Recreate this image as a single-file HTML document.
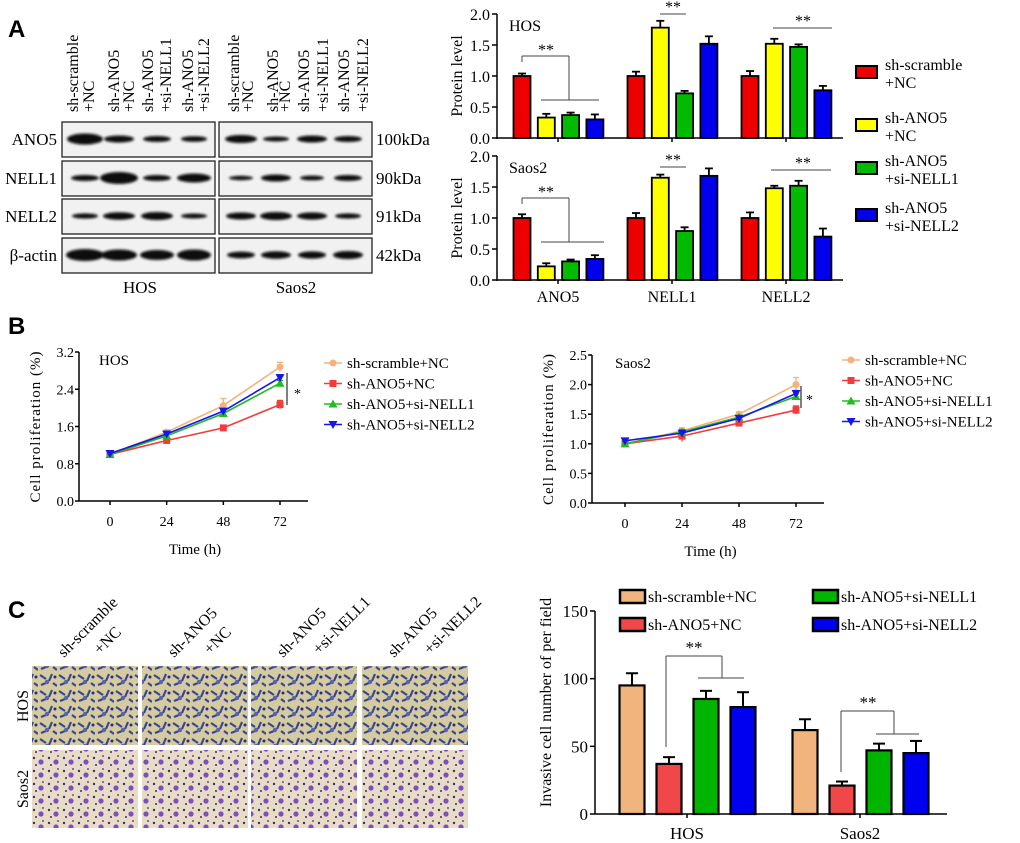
<!DOCTYPE html>
<html><head><meta charset="utf-8">
<style>
html,body{margin:0;padding:0;background:#fff;}
svg{display:block;font-family:"Liberation Serif",serif;}
.pl{font-family:"Liberation Sans",sans-serif;font-weight:bold;font-size:24px;}
</style></head>
<body>
<svg id="fig" width="1020" height="843" viewBox="0 0 1020 843" xmlns="http://www.w3.org/2000/svg">
<defs>
<filter id="blur" x="-20%" y="-100%" width="140%" height="300%"><feGaussianBlur stdDeviation="1.4"/></filter>
<pattern id="hosPat" width="19" height="16" patternUnits="userSpaceOnUse">
<rect width="19" height="16" fill="#d4cba0"/>
<path d="M2 3 l6 4 M14 2 l-3 7 M15 11 l4 3 M3 13 l5 -2" stroke="#3c4590" stroke-width="2.2"/>
<circle cx="9" cy="10" r="2.2" fill="#5a64a8"/><circle cx="17" cy="5" r="1.5" fill="#2a3070"/>
</pattern>
<pattern id="saosPat" width="15" height="13" patternUnits="userSpaceOnUse">
<rect width="15" height="13" fill="#e8dcc6"/>
<circle cx="4" cy="4" r="1.2" fill="#3a2e80"/><circle cx="11" cy="8" r="2.6" fill="#7a50c0"/>
<circle cx="6" cy="11" r="1" fill="#3a2e70"/><circle cx="13" cy="2" r="0.9" fill="#3a2e70"/>
</pattern>
</defs>
<g id="root"></g>
</svg>
<script>
// ---------- Panel A bar chart data ----------
const aCategories = ["ANO5","NELL1","NELL2"];
const aSeries = ["sh-scramble +NC","sh-ANO5 +NC","sh-ANO5 +si-NELL1","sh-ANO5 +si-NELL2"];
const aHosValues = [[1.0,0.33,0.37,0.30],[1.0,1.78,0.72,1.52],[1.0,1.52,1.47,0.77]];
const aHosErrors = [[0.04,0.06,0.04,0.08],[0.07,0.11,0.04,0.12],[0.08,0.08,0.04,0.07]];
const aSaosValues = [[1.0,0.22,0.30,0.34],[1.0,1.65,0.79,1.68],[1.0,1.48,1.52,0.70]];
const aSaosErrors = [[0.06,0.05,0.03,0.06],[0.08,0.05,0.06,0.12],[0.09,0.04,0.08,0.13]];
const aTicks = [0,0.5,1.0,1.5,2.0];
// ---------- Panel B line chart data ----------
const bTimes = [0,24,48,72];
const bSeries = ["sh-scramble+NC","sh-ANO5+NC","sh-ANO5+si-NELL1","sh-ANO5+si-NELL2"];
const bHosValues = [[1.0,1.48,2.05,2.88],[1.0,1.30,1.57,2.07],[1.0,1.40,1.88,2.53],[1.02,1.44,1.93,2.65]];
const bHosErrors = [[0.04,0.05,0.15,0.10],[0.03,0.05,0.05,0.09],[0.03,0.04,0.04,0.06],[0.03,0.04,0.04,0.06]];
const bSaosValues = [[1.0,1.22,1.50,2.00],[1.0,1.13,1.35,1.57],[1.0,1.20,1.45,1.80],[1.05,1.18,1.43,1.85]];
const bSaosErrors = [[0.04,0.05,0.04,0.12],[0.03,0.09,0.04,0.07],[0.03,0.04,0.03,0.04],[0.03,0.03,0.03,0.05]];
const bHosTicks = ["0.0","0.8","1.6","2.4","3.2"];
const bSaosTicks = ["0.0","0.5","1.0","1.5","2.0","2.5"];
// ---------- Panel C bar chart data ----------
const cCategories = ["HOS","Saos2"];
const cSeries = ["sh-scramble+NC","sh-ANO5+NC","sh-ANO5+si-NELL1","sh-ANO5+si-NELL2"];
const cValues = [[95,37,85,79],[62,21,47,45]];
const cErrors = [[9,5,6,11],[8,3,5,9]];
const cTicks = [0,50,100,150];

const NS="http://www.w3.org/2000/svg";
const root=document.getElementById('root');
function mk(tag,attrs,parent,text){const e=document.createElementNS(NS,tag);for(const k in attrs)e.setAttribute(k,attrs[k]);if(text!==undefined)e.textContent=text;(parent||root).appendChild(e);return e;}
function line(x1,y1,x2,y2,w,parent,c){return mk('line',{x1,y1,x2,y2,stroke:c||'#000','stroke-width':w||1},parent);}

let t;
t=mk('text',{x:8,y:37,class:'pl'},root,'A');


t=mk('text',{x:8,y:334,class:'pl'},root,'B');


t=mk('text',{x:8,y:618,class:'pl'},root,'C');



// ---------- Western blot ----------
const wb=mk('g',{});


const colLabels=[["sh-scramble","+NC"],["sh-ANO5","+NC"],["sh-ANO5","+si-NELL1"],["sh-ANO5","+si-NELL2"]];
const colX=[[78,94],[119,134],[153,171],[193,209],[239,253],[278,290],[309,328],[349,368]];
for(let i=0;i<8;i++){
  const lab=colLabels[i%4];
  for(let j=0;j<2;j++){
    const tt=mk('text',{x:0,y:0,transform:`translate(${colX[i][j]},112) rotate(-90)`,'font-size':'16'},wb,lab[j]);
    
    
  }
}
const rows=[["ANO5",122,"100kDa"],["NELL1",161,"90kDa"],["NELL2",199,"91kDa"],["β-actin",238,"42kDa"]];
const bandHos=[[[13,5.5],[10,3.5],[9,3],[8,2.8]],[[9,3],[14,6],[9,3],[12,4.5]],[[8,2.6],[11,3.8],[11,4],[8,2.5]],[[14,6],[13,5.5],[12,5],[12,5.5]]];
const bandSaos=[[[11,4],[8,2.5],[10,3.5],[9,3]],[[7,2.2],[10,3.5],[7,2.4],[9,3]],[[10,3.5],[11,4],[10,3.6],[8,2.6]],[[9,3.4],[10,3.8],[9,3.6],[10,4]]];
const laneHos=[85,119,157,194], laneSaos=[241,276,312,348];
rows.forEach((r,ri)=>{
  const y=r[1];
  const lt=mk('text',{x:57,y:y+23,'text-anchor':'end','font-size':'17'},wb,r[0]);
  
  
  const kt=mk('text',{x:376,y:y+23,'font-size':'17'},wb,r[2]);
  
  
  [[62,laneHos,bandHos],[219,laneSaos,bandSaos]].forEach(([bx,lanes,bands])=>{
    const box=mk('rect',{x:bx,y:y,width:153,height:35,fill:'#f1f1f1',stroke:'#222','stroke-width':1.3},wb);
    
    
    lanes.forEach((lx,li)=>{
      const b=bands[ri][li];
      const e=mk('ellipse',{cx:lx,cy:y+17,rx:b[0]+5,ry:b[1],fill:'#0a0a0a',filter:'url(#blur)'},wb);
      
      
    });
  });
});
t=mk('text',{x:140,y:293,'text-anchor':'middle','font-size':'17'},wb,'HOS');


t=mk('text',{x:296,y:293,'text-anchor':'middle','font-size':'17'},wb,'Saos2');



// ---------- Panel A bar charts ----------
const aColors=['#ee0000','#ffff00','#00bb00','#0000ee'];
function aChart(name,yTop,yBot,vals,errs,title,showCats){
  const g=mk('g',{});
  
  
  const x0=497,x1=843;
  const ys=v=>yBot-(v/2)*(yBot-yTop);
  line(x0,yTop,x0,yBot+1,1.5,g);line(x0,yBot,x1,yBot,1.5,g);
  aTicks.forEach(v=>{line(x0-5,ys(v),x0,ys(v),1.5,g);
    const tl=mk('text',{x:x0-7,y:ys(v)+6,'text-anchor':'end','font-size':'16'},g,v.toFixed(1));
    
    });
  const yt=mk('text',{transform:`translate(${462},${(yTop+yBot)/2}) rotate(-90)`,'text-anchor':'middle','font-size':'16'},g,'Protein level');
  
  
  const tt=mk('text',{x:509,y:yTop+17,'font-size':'16'},g,title);
  
  
  aCategories.forEach((c,ci)=>{
    const cx=558+ci*114;
    line(cx,yBot,cx,yBot+4,1.5,g);
    if(showCats){const cl=mk('text',{x:cx,y:yBot+22,'text-anchor':'middle','font-size':'16'},g,c);
      
      }
    vals[ci].forEach((v,si)=>{
      const bx=cx-36+si*24.3, w=17;
      const e=errs[ci][si];
      line(bx,ys(v),bx,ys(v+e),1.8,g);line(bx-4,ys(v+e),bx+4,ys(v+e),1.8,g);
      const r=mk('rect',{x:bx-w/2,y:ys(v),width:w,height:yBot-ys(v),fill:aColors[si],stroke:'#000','stroke-width':1.8},g);
      
      
    });
  });
  return {g,ys};
}
const hosA=aChart('hos-protein-chart',14,138,aHosValues,aHosErrors,'HOS',false);
const saA=aChart('saos2-protein-chart',156,280,aSaosValues,aSaosErrors,'Saos2',true);
function sig(g,x,y,size){const s=mk('text',{x,y,'text-anchor':'middle','font-size':size||'16'},g,'**');}
[[hosA,0],[saA,142]].forEach(([c,off])=>{
  const g=c.g;
  line(522,off+62,522,off+56,1,g,'#444');line(522,off+56,569,off+56,1,g,'#444');line(569,off+56,569,off+100,1,g,'#444');
  line(541,off+100,(off?604:599),off+100,1,g,'#444');
  sig(g,546,off+55);
});
line(660,14,686,14,1,hosA.g,'#444');sig(hosA.g,673,12);
line(773,28,832,28,1,hosA.g,'#444');sig(hosA.g,803,26);
line(660,167,686,167,1,saA.g,'#444');sig(saA.g,673,165);
line(771,170,831,170,1,saA.g,'#444');sig(saA.g,803,168);
const aLeg=mk('g',{});


[[72,"sh-scramble","+NC"],[125,"sh-ANO5","+NC"],[168,"sh-ANO5","+si-NELL1"],[215,"sh-ANO5","+si-NELL2"]].forEach((l,i)=>{
  const r=mk('rect',{x:856,y:l[0]-6,width:21,height:12,fill:aColors[i],stroke:'#000','stroke-width':2},aLeg);
  
  
  const t1=mk('text',{x:885,y:l[0]-2,'font-size':'16'},aLeg,l[1]);
  
  
  const t2=mk('text',{x:885,y:l[0]+16,'font-size':'16'},aLeg,l[2]);
  
  
});

// ---------- Panel B ----------
const bColors=['#f5b27a','#f23c3c','#22bb22','#1515ee'];
function marker(g,type,x,y,c){
  if(type===0) return mk('circle',{cx:x,cy:y,r:3.5,fill:c},g);
  if(type===1) return mk('rect',{x:x-3.5,y:y-3.5,width:7,height:7,fill:c},g);
  if(type===2) return mk('path',{d:`M${x} ${y-4.5} L${x+4.5} ${y+3.5} L${x-4.5} ${y+3.5}Z`,fill:c},g);
  return mk('path',{d:`M${x} ${y+4.5} L${x+4.5} ${y-3.5} L${x-4.5} ${y-3.5}Z`,fill:c},g);
}
function bChart(name,ax,axEnd,yTop,yBot,ymax,ticks,x0,x72,vals,errs,title,legX,legY,titleX){
  const g=mk('g',{});
  
  
  const ys=v=>yBot-(v/ymax)*(yBot-yTop);
  const xs=tm=>x0+(tm/72)*(x72-x0);
  line(ax,yTop,ax,yBot,1.5,g);line(ax,yBot,axEnd,yBot,1.5,g);
  ticks.forEach(tk=>{const v=parseFloat(tk);line(ax-4,ys(v),ax,ys(v),1.5,g);
    const tl=mk('text',{x:ax-5,y:ys(v)+5,'text-anchor':'end','font-size':'14'},g,tk);
    
    });
  bTimes.forEach(tm=>{line(xs(tm),yBot,xs(tm),yBot+4,1.5,g);
    const xl=mk('text',{x:xs(tm),y:yBot+25,'text-anchor':'middle','font-size':'14'},g,String(tm));
    
    });
  const xt=mk('text',{x:(x0+x72)/2,y:yBot+53,'text-anchor':'middle','font-size':'15'},g,'Time (h)');
  
  
  const yt=mk('text',{transform:`translate(${ax-39},${(yTop+yBot)/2}) rotate(-90)`,'text-anchor':'middle','font-size':'15','letter-spacing':'1'},g,'Cell proliferation (%)');
  
  
  const tt=mk('text',{x:titleX,y:yTop+13,'font-size':'15'},g,title);
  
  
  vals.forEach((s,si)=>{
    const pts=s.map((v,i)=>xs(bTimes[i])+','+ys(v)).join(' ');
    const pl=mk('polyline',{points:pts,fill:'none',stroke:bColors[si],'stroke-width':1.6},g);
    
    
    s.forEach((v,i)=>{
      const e=errs[si][i];
      line(xs(bTimes[i]),ys(v-e),xs(bTimes[i]),ys(v+e),1.3,g,bColors[si]);
      line(xs(bTimes[i])-3,ys(v+e),xs(bTimes[i])+3,ys(v+e),1.3,g,bColors[si]);
      const m=marker(g,si,xs(bTimes[i]),ys(v),bColors[si]);
      
      
    });
  });
  bSeries.forEach((n,i)=>{
    const y=legY+i*20.5;
    line(legX,y,legX+18,y,1.6,g,bColors[i]);
    const m=marker(g,i,legX+9,y,bColors[i]);
    
    
    const lt=mk('text',{x:legX+23,y:y+5,'font-size':'15'},g,n);
    
    
  });
  return {g,ys,xs};
}
const hB=bChart('hos-proliferation-chart',79,308,352,501,3.2,bHosTicks,110,280,bHosValues,bHosErrors,'HOS',324,363,99);
line(287,373,287,405,1,hB.g);
t=mk('text',{x:294,y:398,'font-size':'14'},hB.g,'*');


const sB=bChart('saos2-proliferation-chart',592,824,355,503,2.5,bSaosTicks,625,796,bSaosValues,bSaosErrors,'Saos2',842,360,615);
line(801,386,801,408,1,sB.g);
t=mk('text',{x:806,y:404,'font-size':'14'},sB.g,'*');



// ---------- Panel C images ----------
const cImg=mk('g',{});


const imgX=[32,142,251,362];
const cLab=[["sh-scramble","+NC"],["sh-ANO5","+NC"],["sh-ANO5","+si-NELL1"],["sh-ANO5","+si-NELL2"]];
imgX.forEach((x,i)=>{
  const r1=mk('rect',{x,y:666,width:106,height:79,fill:'url(#hosPat)'},cImg);
  
  
  const r2=mk('rect',{x,y:750,width:106,height:78,fill:'url(#saosPat)'},cImg);
  
  
  const l1=mk('text',{transform:`translate(${x+32},${658}) rotate(-45)`,'font-size':'16'},cImg,cLab[i][0]);
  
  
  const l2=mk('text',{transform:`translate(${x+68},${655}) rotate(-45)`,'font-size':'16'},cImg,cLab[i][1]);
  
  
});
t=mk('text',{transform:'translate(28,706) rotate(-90)','text-anchor':'middle','font-size':'16'},cImg,'HOS');


t=mk('text',{transform:'translate(28,789) rotate(-90)','text-anchor':'middle','font-size':'16'},cImg,'Saos2');



// ---------- Panel C bar chart ----------
const cColors=['#f0b47c','#f04848','#00b400','#0000f0'];
const cg=mk('g',{});


const cx0=595,cx1=947,cTop=611,cBot=814;
const cys=v=>cBot-(v/150)*(cBot-cTop);
line(cx0,cTop,cx0,cBot,1.5,cg);line(cx0,cBot,cx1,cBot,1.5,cg);
cTicks.forEach(v=>{line(cx0-5,cys(v),cx0,cys(v),1.5,cg);
  const tl=mk('text',{x:cx0-7,y:cys(v)+6,'text-anchor':'end','font-size':'17'},cg,String(v));
  
  });
t=mk('text',{transform:`translate(551,${(cTop+cBot)/2-10}) rotate(-90)`,'text-anchor':'middle','font-size':'16'},cg,'Invasive cell number of per field');


cCategories.forEach((c,ci)=>{
  const gc=687+ci*173;
  line(gc,cBot,gc,cBot+4,1.5,cg);
  const xl=mk('text',{x:gc,y:cBot+25,'text-anchor':'middle','font-size':'17'},cg,c);
  
  
  cValues[ci].forEach((v,si)=>{
    const bx=gc-55+si*37, w=25, e=cErrors[ci][si];
    line(bx,cys(v),bx,cys(v+e),2,cg);line(bx-6,cys(v+e),bx+6,cys(v+e),2,cg);
    const r=mk('rect',{x:bx-w/2,y:cys(v),width:w,height:cBot-cys(v),fill:cColors[si],stroke:'#000','stroke-width':2.2},cg);
    
    
  });
});
line(666,747,666,656,1,cg,'#444');line(666,656,722,656,1,cg,'#444');line(722,656,722,678,1,cg,'#444');line(698,678,744,678,1,cg,'#444');
sig(cg,694,653,'17');
line(841,772,841,711,1,cg,'#444');line(841,711,894,711,1,cg,'#444');line(894,711,894,734,1,cg,'#444');line(876,734,919,734,1,cg,'#444');
sig(cg,868,708,'17');
[[620,596,0],[620,624,1],[813,596,2],[813,624,3]].forEach(([x,y,i])=>{
  const r=mk('rect',{x,y:y-6,width:25,height:13,fill:cColors[i],stroke:'#000','stroke-width':2.5},cg);
  
  
  const lt=mk('text',{x:x+28,y:y+6,'font-size':'16'},cg,cSeries[i]);
  
  
});
</script>
</body></html>
